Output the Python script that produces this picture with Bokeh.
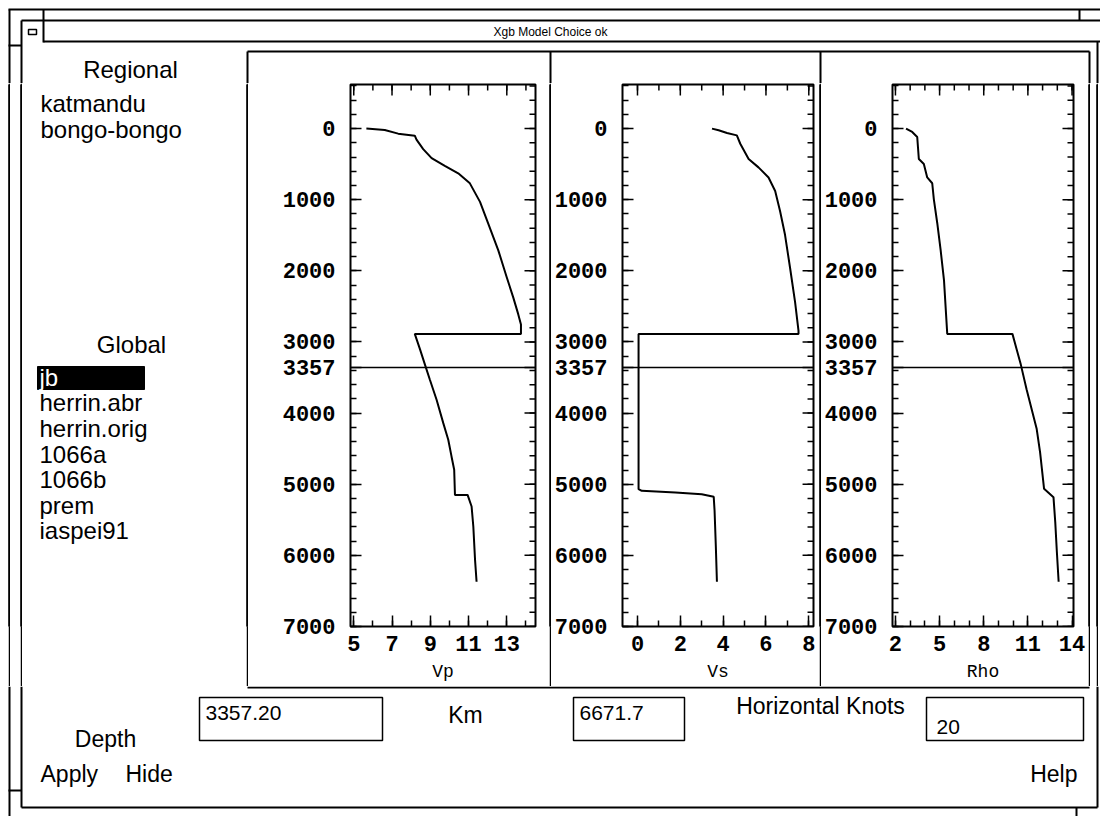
from bokeh.plotting import figure
from bokeh.models import Range1d, LinearAxis, FixedTicker, Span
from bokeh.layouts import row, column
from bokeh.embed import file_html
from bokeh.resources import INLINE
from bokeh.core.properties import value

# ---------------- data ----------------
vp_depth = [0, 20, 71, 99, 156, 288, 416, 524, 628, 770, 1030, 1337, 1715, 2093, 2376, 2612, 2754, 2886,
            2886, 3100, 3300, 3531, 3812, 4141, 4375, 4609, 4797, 5150, 5150, 5313, 5594, 6063, 6371]
vp_vals = [5.66, 6.62, 7.32, 8.19, 8.28, 8.63, 9.07, 9.76, 10.46, 11.07, 11.6, 12.03, 12.56, 13.0, 13.34, 13.6, 13.74, 13.74,
           8.19, 8.46, 8.7, 8.98, 9.33, 9.68, 9.94, 10.11, 10.25, 10.29, 10.95, 11.16, 11.25, 11.34, 11.42]

vs_depth = [0, 24, 62, 95, 213, 427, 545, 687, 877, 1161, 1493, 1967, 2441, 2844, 2886,
            2886, 5070, 5093, 5116, 5140, 5177, 5372, 5884, 6371]
vs_vals = [3.48, 3.79, 4.18, 4.64, 4.8, 5.19, 5.65, 6.12, 6.43, 6.66, 6.89, 7.13, 7.36, 7.52, 7.52,
           0.05, 0.05, 0.2, 1.77, 3.0, 3.56, 3.6, 3.66, 3.71]

rho_depth = [0, 47, 118, 427, 498, 687, 768, 995, 1327, 1706, 2133, 2886,
             2886, 3318, 3664, 4224, 4551, 5065, 5182, 5533, 5953, 6371]
rho_vals = [2.72, 3.14, 3.48, 3.59, 3.93, 4.16, 4.5, 4.61, 4.84, 5.07, 5.3, 5.52,
            9.95, 10.52, 10.91, 11.6, 11.83, 12.1, 12.74, 12.86, 12.97, 13.09]

depth_ticks = [0, 1000, 2000, 3000, 3357, 4000, 5000, 6000, 7000]
depth_minor = list(range(-600, 7001, 200))
depth_range = (7000, -620)
vp_ticks = [5, 7, 9, 11, 13]
vp_minor = list(range(5, 15))
vs_ticks = [0, 2, 4, 6, 8]
vs_minor = list(range(0, 9))
rho_ticks = [2, 5, 8, 11, 14]
rho_minor = list(range(2, 15))

depth_value = "3357.20"
depth_line = 3357.2
km_value = "6671.7"
knots_value = "20"
window_title = "Xgb Model Choice ok"
regional_models = ["katmandu", "bongo-bongo"]
global_models = ["jb", "herrin.abr", "herrin.orig", "1066a", "1066b", "prem", "iaspei91"]

SANS = value("Liberation Sans")
MONO = "Liberation Mono"
LW = 2

# vertical layout (page px)
Y_TOP_END = 83      # title area ends, middle row starts
Y_MID_END = 686     # middle row ends
Y_END = 816
BT, BB = 1, 60      # middle-row plot borders (top / bottom)
MID_H = Y_MID_END - Y_TOP_END


def blank(x0, x1, y0, y1, **kw):
    p = figure(width=int(x1 - x0), height=int(y1 - y0), x_range=Range1d(x0, x1), y_range=Range1d(y1, y0),
               output_backend="svg", toolbar_location=None, min_border=0,
               x_axis_location=None, y_axis_location=None, **kw)
    p.grid.visible = False
    p.outline_line_color = None
    return p


def strip(w, color):
    p = figure(width=w, height=MID_H, x_range=Range1d(0, 1), y_range=Range1d(0, 1),
               output_backend="svg", toolbar_location=None, min_border=0,
               min_border_top=BT, min_border_bottom=BB,
               x_axis_location=None, y_axis_location=None,
               background_fill_color=color, border_fill_color=color)
    p.grid.visible = False
    p.outline_line_color = None
    p.quad(left=[0], right=[1], bottom=[0], top=[1], color=color)
    return p


def seg(p, segs, w=LW):
    p.segment(x0=[s[0] for s in segs], y0=[s[1] for s in segs],
              x1=[s[2] for s in segs], y1=[s[3] for s in segs], line_color="black", line_width=w)


def style_axis(ax):
    ax.axis_line_color = None
    ax.major_tick_in = 11
    ax.major_tick_out = 0
    ax.minor_tick_in = 6
    ax.minor_tick_out = 0
    ax.major_tick_line_width = 1.5
    ax.minor_tick_line_width = 1.5
    ax.major_label_text_font = MONO
    ax.major_label_text_font_style = "bold"
    ax.major_label_text_font_size = "22px"
    ax.major_label_text_color = "black"


def panel(width, left, right, xr, xmajor, xminor, label, xs, ys):
    p = figure(width=width, height=MID_H, x_range=Range1d(*xr), y_range=Range1d(*depth_range),
               output_backend="svg", toolbar_location=None,
               min_border_left=left, min_border_right=right, min_border_top=BT, min_border_bottom=BB,
               x_axis_location=None, y_axis_location=None)
    p.grid.visible = False
    p.outline_line_color = "black"
    p.outline_line_width = 2

    xax = LinearAxis(ticker=FixedTicker(ticks=xmajor, minor_ticks=xminor))
    style_axis(xax)
    xax.major_label_standoff = 9
    xax.axis_label = label
    xax.axis_label_text_font = MONO
    xax.axis_label_text_font_style = "normal"
    xax.axis_label_text_font_size = "18px"
    xax.axis_label_text_color = "black"
    xax.axis_label_standoff = 8
    p.add_layout(xax, "below")

    yax = LinearAxis(ticker=FixedTicker(ticks=depth_ticks, minor_ticks=depth_minor))
    style_axis(yax)
    yax.major_label_standoff = 15
    p.add_layout(yax, "left")

    # mirrored inward ticks on the top and right edges of the frame
    fw = width - left - right
    fh = MID_H - BT - BB
    xu = (xr[1] - xr[0]) / fw
    yu = (depth_range[0] - depth_range[1]) / fh
    x_end, y_top = xr[1], depth_range[1]
    minor_in = [t for t in depth_minor if t > y_top]
    rx0 = [x_end] * (len(depth_ticks) + len(minor_in))
    rx1 = [x_end - 11 * xu] * len(depth_ticks) + [x_end - 6 * xu] * len(minor_in)
    ry = depth_ticks + minor_in
    p.segment(x0=rx0, y0=ry, x1=rx1, y1=ry, line_color="black", line_width=1.5)
    tx = xmajor + xminor
    ty1 = [y_top + 11 * yu] * len(xmajor) + [y_top + 6 * yu] * len(xminor)
    p.segment(x0=tx, y0=[y_top] * len(tx), x1=tx, y1=ty1, line_color="black", line_width=1.5)

    p.line(x=xs, y=ys, line_color="black", line_width=2)
    p.add_layout(Span(location=depth_line, dimension="width", line_color="black", line_width=1.5))
    return p


# ---------------- top (title bar) ----------------
top = blank(0, 1100, 0, Y_TOP_END)
seg(top, [(8, 9, 1100, 9), (9, 9, 9, Y_TOP_END), (21, 20, 1100, 20), (21, 20, 21, Y_TOP_END), (43, 9, 43, 42),
          (43, 41, 1100, 41), (8, 45, 21, 45), (1079, 9, 1079, 20), (1097, 41, 1097, Y_TOP_END),
          (247, 51, 1089, 51), (247, 51, 247, Y_TOP_END), (550, 51, 550, Y_TOP_END),
          (820, 51, 820, Y_TOP_END), (1089, 51, 1089, Y_TOP_END)])
top.quad(left=[28], right=[36], top=[29], bottom=[34], fill_color=None, line_color="black", line_width=1.5)
top.text(x=[550], y=[31], text=[window_title], text_font=SANS, text_font_size="12px",
         text_align="center", text_baseline="middle", text_color="black")
top.text(x=[130], y=[69], text=["Regional"], text_font=SANS, text_font_size="24px",
         text_align="center", text_baseline="middle", text_color="black")

# ---------------- middle row ----------------
FY0, FY1 = Y_TOP_END + BT, Y_MID_END - BB   # frame extent of the middle row
left = figure(width=224, height=MID_H, x_range=Range1d(22, 246), y_range=Range1d(FY1, FY0),
              output_backend="svg", toolbar_location=None, min_border=0,
              min_border_top=BT, min_border_bottom=BB, x_axis_location=None, y_axis_location=None)
left.grid.visible = False
left.outline_line_color = None
left.quad(left=[37], right=[144], top=[366], bottom=[389], color="black")
left.text(x=[131], y=[344], text=["Global"], text_font=SANS, text_font_size="24px",
          text_align="center", text_baseline="middle", text_color="black")
reg_y = [103, 129]
left.text(x=[40] * len(regional_models), y=reg_y, text=regional_models, text_font=SANS,
          text_font_size="24px", text_baseline="middle", text_color="black")
glob_y = [377, 402, 428, 454, 479, 505, 530]
glob_colors = ["white"] + ["black"] * (len(global_models) - 1)
left.text(x=[39] * len(global_models), y=glob_y, text=global_models, text_font=SANS,
          text_font_size="24px", text_baseline="middle", text_color=glob_colors)

vp = panel(301, 102, 14, (4.83, 14.5), vp_ticks, vp_minor, "Vp", vp_vals, vp_depth)
vs = panel(268, 70, 6, (-0.7, 8.22), vs_ticks, vs_minor, "Vs", vs_vals, vs_depth)
rho = panel(267, 71, 15, (1.8, 14.1), rho_ticks, rho_minor, "Rho", rho_vals, rho_depth)

mid = row(strip(8, "white"), strip(2, "black"), strip(10, "white"), strip(2, "black"),
          left, strip(2, "black"), vp, strip(2, "black"), vs, strip(2, "black"), rho,
          strip(2, "black"), strip(6, "white"), strip(2, "black"), strip(2, "white"), spacing=0)

# ---------------- bottom ----------------
bot = blank(0, 1100, Y_MID_END, Y_END)
seg(bot, [(9, Y_MID_END, 9, Y_END), (21, Y_MID_END, 21, 807), (21, 807, 1097, 807), (1097, Y_MID_END, 1097, 807),
          (247, 687, 1089, 687), (8, 790, 21, 790), (1076, 807, 1076, Y_END)])
bot.quad(left=[199, 573, 926], right=[382, 684, 1083], top=[697, 697, 697], bottom=[740, 740, 740],
         fill_color=None, line_color="black", line_width=1.5)
bot.text(x=[205, 579, 936], y=[712, 712, 726], text=[depth_value, km_value, knots_value], text_font=SANS,
         text_font_size="21px", text_baseline="middle", text_color="black")
bot.text(x=[105, 465, 820], y=[738, 714, 705], text=["Depth", "Km", "Horizontal Knots"], text_font=SANS,
         text_font_size="23px", text_align="center", text_baseline="middle", text_color="black")
bot.text(x=[40, 125], y=[773, 773], text=["Apply", "Hide"], text_font=SANS,
         text_font_size="23px", text_baseline="middle", text_color="black")
bot.text(x=[1077], y=[773], text=["Help"], text_font=SANS,
         text_font_size="23px", text_align="right", text_baseline="middle", text_color="black")

layout = column(top, mid, bot, spacing=0)

open("out.html", "w").write(file_html(layout, INLINE))
